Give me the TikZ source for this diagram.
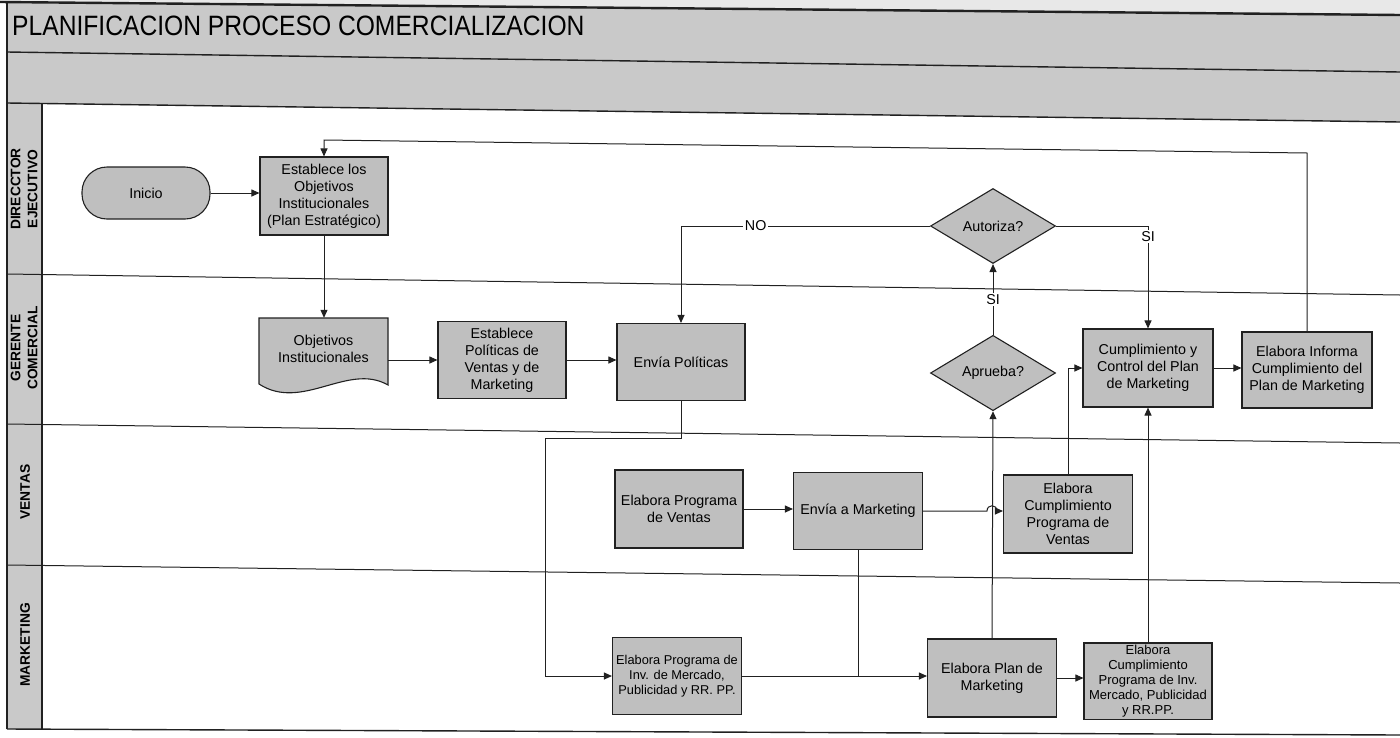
\documentclass[tikz,border=0pt]{standalone}
\usepackage{fontspec}
\setmainfont{Liberation Sans}
\usetikzlibrary{arrows.meta,shapes.geometric,calc}
\newcommand\fsz[2]{\fontsize{#1}{#2}\selectfont}
\definecolor{boxgray}{gray}{0.75}
\definecolor{bandgray}{gray}{0.79}
\definecolor{inkline}{gray}{0.13}

\begin{document}
\begin{tikzpicture}[x=1pt,y=-1pt,
  box/.style={draw=inkline, line width=1.1pt, fill=boxgray, minimum width=128pt,
    minimum height=77pt, inner sep=2pt, align=center, font=\fsz{14.3}{17}},
  smallbox/.style={box, font=\fsz{12.8}{15}},
  decision/.style={diamond, draw=inkline, line width=1.1pt, fill=boxgray,
    minimum width=125pt, minimum height=75pt, inner sep=0pt, font=\fsz{14.3}{17}},
  terminal/.style={draw=inkline, line width=1.1pt, fill=boxgray, rounded corners=25pt,
    minimum width=128pt, minimum height=52pt, font=\fsz{14.3}{17}},
  flow/.style={draw=inkline, line width=1pt},
  arr/.style={flow, -{Triangle[length=8pt,width=7pt]}},
  lbl/.style={fill=white, inner sep=1.5pt, font=\fsz{14.3}{16}},
  lane/.style={draw=inkline, line width=1pt},
  frame/.style={draw=inkline, line width=1.4pt},
  lanelabel/.style={rotate=90, align=center, font=\bfseries\fsz{13.8}{17}},
]
\useasboundingbox (0,0) rectangle (1400,737);

% header bands and lane label column
\fill[gray!18] (0,0) -- (1400,0) -- (1400,15) -- (0,2) -- cycle;
\fill[bandgray] (7,2) -- (1400,15) -- (1400,122) -- (7,103) -- cycle;
\fill[bandgray] (7,103) -- (42,103.5) -- (42,729.5) -- (7,729) -- cycle;

\draw[inkline, line width=2.4pt] (0,2) -- (1400,15);
\draw[frame] (7,52) -- (1400,72);
\draw[frame] (7,103) -- (1400,122);
\draw[frame] (7,2) -- (7,729);
\draw[frame] (42,103) -- (42,729);

% swimlane separators
\draw[lane] (7,274) -- (1400,295);
\draw[lane] (7,424) -- (1400,443);
\draw[lane] (7,565) -- (1400,583);
\draw[frame] (7,729) -- (1400,735);

\node[anchor=base west, font=\fsz{28}{30}, inner sep=0pt] (title) at (12,35)
  {\scalebox{0.88}[1]{PLANIFICACION PROCESO COMERCIALIZACION}};

% lane names
\node[lanelabel] (lDir) at (24,189) {DIRECCTOR\\EJECUTIVO};
\node[lanelabel] (lGer) at (24,348) {GERENTE\\COMERCIAL};
\node[lanelabel] (lVen) at (25,492) {VENTAS};
\node[lanelabel] (lMkt) at (25,645) {MARKETING};

% document shape
\filldraw[draw=inkline, line width=1.1pt, fill=boxgray]
  (259,318) -- (388,318) -- (388,385) .. controls (348,362) and (302,412) .. (259,384) -- cycle;

% activities
\node[terminal] (inicio) at (146,193) {Inicio};
\node[box, minimum height=78pt] (estab) at (324,196)
  {Establece los\\Objetivos\\Institucionales\\(Plan Estratégico)};
\node[minimum width=129pt, minimum height=62pt, inner sep=0pt, align=center,
  font=\fsz{14.3}{17}] (doc) at (323.5,349) {Objetivos\\Institucionales};
\node[box] (pol) at (502,360) {Establece\\Políticas de\\Ventas y de\\Marketing};
\node[box] (envp) at (681,362) {Envía Políticas};
\node[decision] (autoriza) at (993,226) {Autoriza?};
\node[decision] (aprueba) at (993,373) {Aprueba?};
\node[box, minimum width=130pt, minimum height=78pt] (cumpl) at (1148,368)
  {Cumplimiento y\\Control del Plan\\de Marketing};
\node[box, minimum width=130pt, minimum height=76pt] (informa) at (1307,370)
  {Elabora Informa\\Cumplimiento del\\Plan de Marketing};
\node[box, minimum height=78pt] (epv) at (679,509) {Elabora Programa\\de Ventas};
\node[box, minimum width=129pt] (envm) at (858,511) {Envía a Marketing};
\node[box, minimum width=129pt, minimum height=78pt] (ecpv) at (1068,514)
  {Elabora\\Cumplimiento\\Programa de\\Ventas};
\node[smallbox, minimum width=129pt] (epinv) at (677,676)
  {Elabora Programa de\\Inv. de Mercado,\\Publicidad y RR. PP.};
\node[box, minimum width=129pt, minimum height=78pt] (plan) at (992,678)
  {Elabora Plan de\\Marketing};
\node[smallbox, font=\fsz{13}{15}, minimum height=76pt] (ecinv) at (1148,681)
  {Elabora\\Cumplimiento\\Programa de Inv.\\Mercado, Publicidad\\y RR.PP.};

% connectors
\coordinate (fbR) at (1307,153);
\coordinate (fbL) at (324,140);
\coordinate (split) at (545,438);

\draw[arr] (inicio.east) -- (estab.west |- inicio.east);
\draw[arr] (estab.south) -- (estab.south |- doc.north);
\draw[arr] (doc.east |- pol.west) -- (pol.west);
\draw[arr] (pol.east) -- (envp.west |- pol.east);
\draw[arr] (envp.south) |- (split) |- (epinv.west);
\draw[arr] (epv.east) -- (envm.west |- epv.east);
\draw[flow] (envm.south) -- (envm.south |- epinv.east);
\draw[arr] (epinv.east) -- (plan.west |- epinv.east);
\draw[arr] (plan.east) -- (ecinv.west |- plan.east);
\draw[arr] (plan.north) -- (aprueba.south);
\draw[arr] (aprueba.north) -- node[lbl] {SI} (autoriza.south);
\draw[arr] (autoriza.west) -| node[lbl, pos=0.35] {NO} (envp.north);
\draw[arr] (autoriza.east) -| node[lbl, pos=0.55] {SI} (cumpl.north);
\draw[arr] (envm.east) -- ($(plan.north |- envm.east)+(-5,0)$)
  .. controls +(0,-7) and +(0,-7) .. ($(plan.north |- envm.east)+(5,0)$)
  -- (ecpv.west |- envm.east);
\draw[arr] (ecpv.north) |- (cumpl.west);
\draw[arr] (ecinv.north) -- (cumpl.south);
\draw[arr] (cumpl.east) -- (informa.west |- cumpl.east);
\draw[arr] (informa.north) -- (fbR) -- (fbL) -- (estab.north);

\end{tikzpicture}
\end{document}
